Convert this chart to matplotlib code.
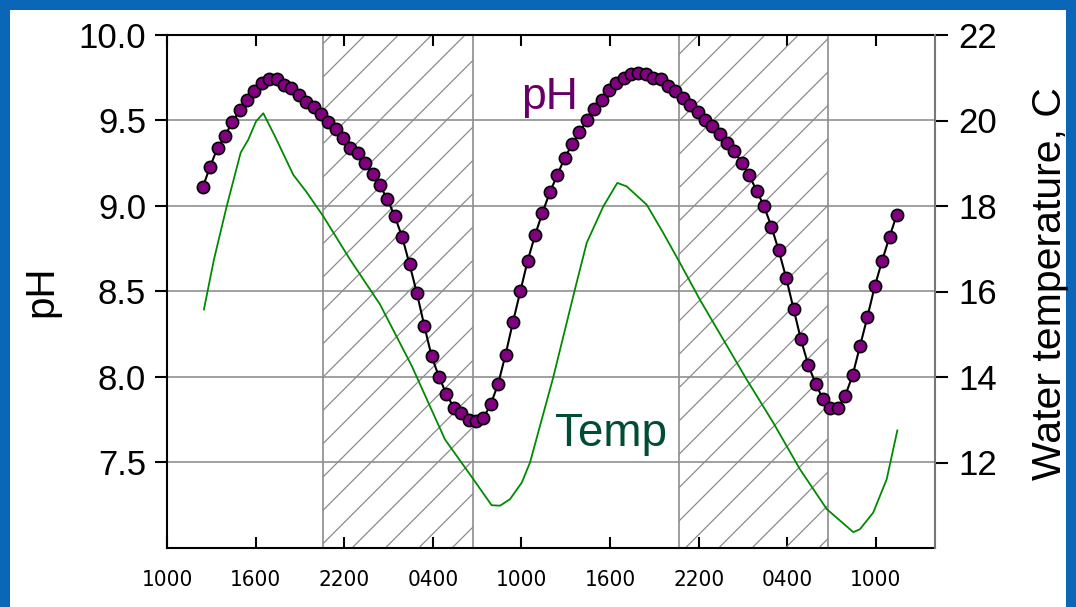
import matplotlib
matplotlib.use("Agg")
import matplotlib.pyplot as plt
from matplotlib.patches import Rectangle
import numpy as np

# hours after 1000 on day 1
hour_ticks = [0, 6, 12, 18, 24, 30, 36, 42, 48]
hour_labels = ["1000", "1600", "2200", "0400", "1000", "1600", "2200", "0400", "1000"]
night_spans = [(10.55, 20.7), (34.65, 44.75)]

# pH logged every 30 min, first reading ~1225
ph_start = 2.42
ph_step = 0.5
ph = [9.11, 9.23, 9.34, 9.41, 9.49, 9.56, 9.62, 9.67, 9.72, 9.74,
      9.74, 9.71, 9.69, 9.65, 9.61, 9.58, 9.54, 9.49, 9.45, 9.40,
      9.34, 9.31, 9.25, 9.19, 9.12, 9.04, 8.94, 8.82, 8.66, 8.49,
      8.30, 8.12, 8.00, 7.90, 7.82, 7.79, 7.75, 7.74, 7.76, 7.84,
      7.96, 8.13, 8.32, 8.50, 8.68, 8.83, 8.96, 9.08, 9.18, 9.28,
      9.36, 9.43, 9.50, 9.57, 9.62, 9.68, 9.72, 9.75, 9.77, 9.78,
      9.77, 9.75, 9.74, 9.70, 9.67, 9.63, 9.59, 9.55, 9.50, 9.47,
      9.42, 9.37, 9.32, 9.25, 9.18, 9.09, 9.00, 8.88, 8.74, 8.58,
      8.40, 8.22, 8.07, 7.96, 7.87, 7.82, 7.82, 7.89, 8.01, 8.18,
      8.35, 8.53, 8.68, 8.82, 8.95]

temp_hours = [2.50, 3.18, 4.04, 4.99, 5.50, 6.03, 6.52, 7.31, 8.55, 9.46,
              10.58, 12.39, 14.42, 16.57, 18.82, 20.74, 21.98, 22.55, 23.22, 24.02,
              24.58, 25.25, 26.15, 27.62, 28.42, 29.54, 30.49, 31.12, 32.48, 33.60,
              34.73, 36.08, 39.25, 41.05, 42.86, 44.67, 46.47, 46.92, 47.82, 48.73,
              49.45]
temp = [15.58, 16.75, 17.99, 19.25, 19.55, 19.98, 20.17, 19.63, 18.73, 18.32,
        17.76, 16.75, 15.70, 14.26, 12.54, 11.61, 11.00, 10.99, 11.14, 11.53,
        12.00, 12.85, 13.99, 16.05, 17.14, 17.99, 18.54, 18.46, 18.03, 17.37,
        16.67, 15.81, 13.94, 12.93, 11.84, 10.91, 10.37, 10.44, 10.83, 11.61,
        12.75]

ph_ticks = [7.5, 8.0, 8.5, 9.0, 9.5, 10.0]
temp_ticks = [12, 14, 16, 18, 20, 22]

plt.rcParams['font.family'] = ['Liberation Sans', 'DejaVu Sans']
plt.rcParams['hatch.linewidth'] = 0.9

fig = plt.figure(figsize=(10.76, 6.07), dpi=100, facecolor='#0b66b8')
fig.patches.append(Rectangle((10 / 1076, 0), 1056 / 1076, 597 / 607,
                             transform=fig.transFigure, facecolor='white',
                             edgecolor='none', zorder=-5))

ax = fig.add_axes([167 / 1076, 1 - 548 / 607, 768 / 1076, 513 / 607])
ax.set_facecolor('none')
ax.set_xlim(0, 52)
ax.set_ylim(7.0, 10.0)

for y in ph_ticks[:-1]:
    ax.axhline(y, color='#999999', lw=1.3, zorder=1)
for a, b in night_spans:
    ax.axvspan(a, b, facecolor='none', edgecolor='#8c8c8c', hatch='/', lw=1.2, zorder=2)

ph_hours = ph_start + ph_step * np.arange(len(ph))
ax.plot(ph_hours, ph, color='black', lw=1.5, marker='o', ms=8.8,
        mfc='#800080', mec='black', mew=1.2, zorder=5)

ax.set_yticks(ph_ticks)
ax.set_yticklabels(["%.1f" % v for v in ph_ticks])
ax.set_xticks(hour_ticks)
ax.set_xticklabels(hour_labels, family='DejaVu Sans', fontstretch='condensed', fontsize=16)
ax.tick_params(axis='y', direction='out', length=9, width=1.5, labelsize=25, pad=6)
ax.tick_params(axis='x', direction='in', length=8, width=1.5, top=True, pad=16)
ax.set_ylabel('pH', fontsize=29, labelpad=13)
for s in ['left', 'bottom', 'top']:
    ax.spines[s].set_linewidth(1.5)
ax.spines['right'].set_visible(False)

ax2 = ax.twinx()
ax2.set_ylim(10, 22)
ax2.plot(temp_hours, temp, color='#008a00', lw=1.3, zorder=4)
ax2.set_yticks(temp_ticks)
ax2.tick_params(axis='y', direction='out', length=9, width=1.5, labelsize=25, pad=8)
ax2.set_ylabel('Water temperature, C', fontsize=29.5)
ax2.yaxis.set_label_coords(1.125, 0.515)
ax2.spines['right'].set_color('#777777')
ax2.spines['right'].set_linewidth(1.5)
for s in ['left', 'bottom', 'top']:
    ax2.spines[s].set_visible(False)

ax.text(24.0, 9.57, 'pH', fontsize=32, color='#660066')
ax.text(26.3, 7.595, 'Temp', fontsize=33, color='#004d33')

fig.savefig('out.png', dpi=100, facecolor=fig.get_facecolor())
